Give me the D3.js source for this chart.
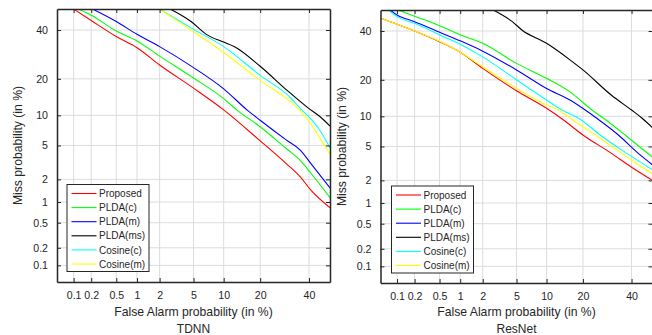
<!DOCTYPE html>
<html><head><meta charset="utf-8">
<script src="https://cdn.jsdelivr.net/npm/d3@7"></script>
<style>body{margin:0;background:#fff}svg{display:block}text{font-family:"Liberation Sans",Arial,sans-serif}</style>
</head><body>
<svg id="c" width="652" height="335"></svg>
<script>
// ---- data (FA %, Miss %) ----
const seriesNames = ["Proposed","PLDA(c)","PLDA(m)","PLDA(ms)","Cosine(c)","Cosine(m)"];
const seriesColors = ["#ff0000","#00ff00","#0000ff","#000000","#00ffff","#ffff00"];
const tickValuesPct = [0.1,0.2,0.5,1,2,5,10,20,40];
const tickLabels = ["0.1","0.2","0.5","1","2","5","10","20","40"];
const axisRangePct = [0.05,50];
const panelTitles = ["TDNN","ResNet"];

const tdnnProposed = [[0.1,50],[0.2,44.5],[0.5,37],[1,32],[2,25],[5,17],[10,11.2],[20,5.6],[30,3.1],[36,2.15],[41,1.44],[50,0.83]];
const tdnnPldaC    = [[0.12,50],[0.2,47],[0.5,39.5],[1,35],[2,28.5],[5,20.3],[10,14],[13.2,11.1],[20,7.8],[30,4.6],[36,3.4],[41,2.37],[50,1.15]];
const tdnnPldaM    = [[0.21,50],[0.5,44],[1,38],[2,32.5],[5,24],[10,16.8],[16,11.1],[20,9],[30,5.7],[36,4.45],[41,3.1],[50,1.55]];
const tdnnPldaMs   = [[2.7,50],[4.7,44],[6.8,38],[10,34.5],[12.5,32.5],[20,24.5],[30,16.5],[40,11.5],[45,9.8],[50,7.9]];
const tdnnCosC     = [[2,50],[4.7,41],[10,32.5],[20,21.2],[32,14.1],[36.4,11.3],[40.3,9.5],[45.5,7],[50,4.7]];
const tdnnCosM     = [[2,50],[4.7,40],[10,30],[20,19.5],[32,13],[36,11],[40,8.8],[45.5,5.8],[50,4]];

const resProposed = [[0.05,46],[0.1,43.2],[0.2,40],[0.5,35.1],[1,30.5],[2,24.1],[5,16.5],[10,11.8],[14,9.3],[20,6.6],[31,4.2],[40,2.9],[50,2.0]];
const resPldaC    = [[0.105,50],[0.2,47],[0.5,42.5],[1,38.3],[2,34.4],[5,26],[10,20.5],[15.9,16.2],[23.2,11.4],[27.7,9.6],[37,6.6],[44.8,4.75],[50,3.8]];
const resPldaM    = [[0.075,50],[0.1,47.6],[0.2,44.4],[0.5,39.4],[1,35.5],[2,31],[5,23.5],[10,17.2],[15.9,13.9],[20.8,11.4],[25,9.6],[34,6.6],[43.2,4.2],[50,3.1]];
const resPldaMs   = [[2.7,50],[4.5,44.4],[5.7,40.5],[10,34.4],[16,27.3],[20,23.5],[31,15.2],[40,11.4],[45,9.6],[50,7.8]];
const resCosC     = [[0.07,50],[0.1,46.8],[0.2,43.6],[0.5,38.2],[1,34],[2,28.6],[5,20],[10,13.9],[13.7,11.4],[18.6,9.6],[26.3,6.6],[37.8,4.2],[50,2.7]];
const resCosM     = [[0.05,46],[0.1,43.2],[0.2,40],[0.5,35.3],[1,30.5],[2,24.7],[5,17.2],[10,12.6],[12.8,11.4],[16,9.6],[24.4,6.6],[35.5,4.2],[50,2.4]];

const tdnnSeries = [tdnnProposed,tdnnPldaC,tdnnPldaM,tdnnPldaMs,tdnnCosC,tdnnCosM];
const resSeries  = [resProposed,resPldaC,resPldaM,resPldaMs,resCosC,resCosM];

// inverse normal CDF (Acklam)
function probit(p){
  const a=[-3.969683028665376e+01,2.209460984245205e+02,-2.759285104469687e+02,1.383577518672690e+02,-3.066479806614716e+01,2.506628277459239e+00];
  const b=[-5.447609879822406e+01,1.615858368580409e+02,-1.556989798598866e+02,6.680131188771972e+01,-1.328068155288572e+01];
  const c=[-7.784894002430293e-03,-3.223964580411365e-01,-2.400758277161838e+00,-2.549732539343734e+00,4.374664141464968e+00,2.938163982698783e+00];
  const d=[7.784695709041462e-03,3.224671290700398e-01,2.445134137142996e+00,3.754408661907416e+00];
  const pl=0.02425, ph=1-pl; let q,r;
  if(p<pl){q=Math.sqrt(-2*Math.log(p));return (((((c[0]*q+c[1])*q+c[2])*q+c[3])*q+c[4])*q+c[5])/((((d[0]*q+d[1])*q+d[2])*q+d[3])*q+1);}
  if(p<=ph){q=p-0.5;r=q*q;return (((((a[0]*r+a[1])*r+a[2])*r+a[3])*r+a[4])*r+a[5])*q/(((((b[0]*r+b[1])*r+b[2])*r+b[3])*r+b[4])*r+1);}
  q=Math.sqrt(-2*Math.log(1-p));return -(((((c[0]*q+c[1])*q+c[2])*q+c[3])*q+c[4])*q+c[5])/((((d[0]*q+d[1])*q+d[2])*q+d[3])*q+1);
}
const P = v => probit(v/100);

const svg = d3.select("#c");
const txt = "#262626";
const FONT = '"Liberation Sans",Arial,sans-serif';
const panels = [
  {x0:57, x1:330, y0:9, y1:282, series:tdnnSeries, title:panelTitles[0], ylabX:17, legend:{x:67,y:184.5,w:82,h:87}},
  {x0:380.5, x1:652.5, y0:10, y1:283, series:resSeries, title:panelTitles[1], ylabX:341, legend:{x:391.5,y:186,w:82,h:87}}
];

panels.forEach((pn,pi)=>{
  const g = svg.append("g");
  const dom = [P(axisRangePct[0]), P(axisRangePct[1])];
  const x = d3.scaleLinear().domain(dom).range([pn.x0,pn.x1]);
  const y = d3.scaleLinear().domain(dom).range([pn.y1,pn.y0]);
  const tv = tickValuesPct.map(P);
  const fmt = (d,i)=>tickLabels[i];

  // grid
  g.append("g").selectAll("line").data(tv).join("line")
    .attr("x1",d=>x(d)).attr("x2",d=>x(d)).attr("y1",pn.y0).attr("y2",pn.y1)
    .attr("stroke","#dcdcdc").attr("stroke-width",1);
  g.append("g").selectAll("line").data(tv).join("line")
    .attr("y1",d=>y(d)).attr("y2",d=>y(d)).attr("x1",pn.x0).attr("x2",pn.x1)
    .attr("stroke","#dcdcdc").attr("stroke-width",1);

  // curves
  const cid = "clip"+pi;
  svg.append("clipPath").attr("id",cid).append("rect")
    .attr("x",pn.x0).attr("y",pn.y0).attr("width",pn.x1-pn.x0).attr("height",pn.y1-pn.y0);
  const line = d3.line().x(d=>x(P(d[0]))).y(d=>y(P(d[1]))).curve(d3.curveMonotoneX);
  const cg = g.append("g").attr("clip-path",`url(#${cid})`);
  pn.series.forEach((s,i)=>{
    cg.append("path").datum(s).attr("d",line).attr("fill","none")
      .attr("stroke",seriesColors[i]).attr("stroke-width",1.1);
  });

  // axes
  const styleAxis = sel=>{
    sel.selectAll(".domain").attr("stroke",txt).attr("stroke-width",1.5);
    sel.selectAll(".tick line").attr("stroke",txt);
    sel.selectAll(".tick text").attr("fill",txt).style("font-size","10.6px").style("font-family",FONT);
  };
  const ax = g.append("g").attr("transform",`translate(0,${pn.y1})`)
    .call(d3.axisBottom(x).tickValues(tv).tickFormat(fmt).tickSizeInner(-4).tickSizeOuter(0).tickPadding(9));
  styleAxis(ax);
  const ay = g.append("g").attr("transform",`translate(${pn.x0},0)`)
    .call(d3.axisLeft(y).tickValues(tv).tickFormat(fmt).tickSizeInner(-4).tickSizeOuter(0).tickPadding(9));
  styleAxis(ay);
  const at = g.append("g").attr("transform",`translate(0,${pn.y0})`)
    .call(d3.axisTop(x).tickValues(tv).tickFormat("").tickSizeInner(-4).tickSizeOuter(0));
  styleAxis(at);
  const ar = g.append("g").attr("transform",`translate(${pn.x1},0)`)
    .call(d3.axisRight(y).tickValues(tv).tickFormat("").tickSizeInner(-4).tickSizeOuter(0));
  styleAxis(ar);

  // labels
  const cx = (pn.x0+pn.x1)/2;
  g.append("text").attr("x",cx).attr("y",316).attr("text-anchor","middle")
    .style("fill",txt).style("font-size","12.2px").style("font-family",FONT).text("False Alarm probability (in %)");
  g.append("text").attr("x",cx).attr("y",333).attr("text-anchor","middle")
    .style("fill",txt).style("font-size","12px").style("font-family",FONT).text(pn.title);
  g.append("text").attr("transform",`translate(${pn.ylabX+4.5},${(pn.y0+pn.y1)/2}) rotate(-90)`)
    .attr("text-anchor","middle").style("fill",txt).style("font-size","12.2px").style("font-family",FONT)
    .text("Miss probability (in %)");

  // legend
  const L = pn.legend;
  const lg = g.append("g");
  lg.append("rect").attr("x",L.x).attr("y",L.y).attr("width",L.w).attr("height",L.h)
    .attr("fill","#fff").attr("stroke",txt).attr("stroke-width",1);
  seriesNames.forEach((nm,i)=>{
    const yy = L.y+9+i*14.1;
    lg.append("line").attr("x1",L.x+4.5).attr("x2",L.x+29.5).attr("y1",yy).attr("y2",yy)
      .attr("stroke",seriesColors[i]).attr("stroke-width",1.1);
    lg.append("text").attr("x",L.x+32).attr("y",yy+3.6)
      .style("fill",txt).style("font-size","10px").style("font-family",FONT).text(nm);
  });
});
</script>
</body></html>
